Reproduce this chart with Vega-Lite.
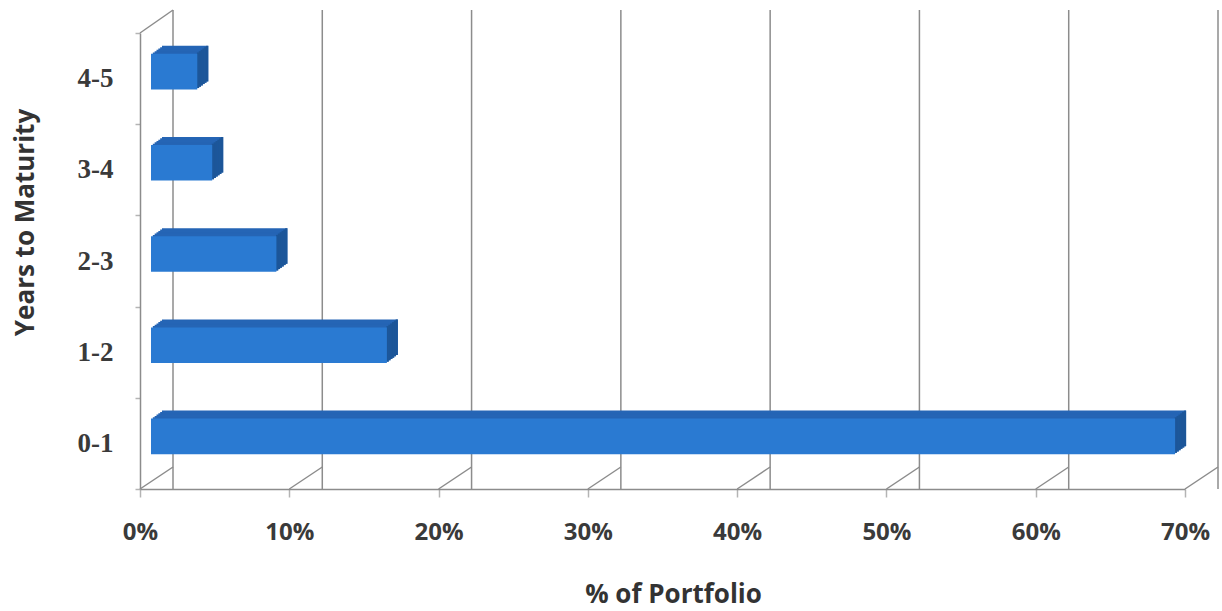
{
  "$schema": "https://vega.github.io/schema/vega-lite/v6.json",
  "width": 1045,
  "height": 456,
  "autosize": {"type": "none"},
  "padding": {"left": 140, "top": 33, "right": 37, "bottom": 122},
  "background": "white",
  "config": {"view": {"stroke": null}},
  "datasets": {
    "maturity": [
      {"term": "0-1", "pct": 68.6},
      {"term": "1-2", "pct": 15.8},
      {"term": "2-3", "pct": 8.4},
      {"term": "3-4", "pct": 4.1},
      {"term": "4-5", "pct": 3.1}
    ],
    "ticks": [
      {"v": 0}, {"v": 10}, {"v": 20}, {"v": 30},
      {"v": 40}, {"v": 50}, {"v": 60}, {"v": 70}
    ]
  },
  "layer": [
    {
      "data": {"name": "ticks"},
      "mark": {"type": "rule", "color": "#8c8c8c", "strokeWidth": 1.5, "xOffset": 33, "yOffset": -23, "y2Offset": -22},
      "encoding": {
        "x": {"field": "v", "type": "quantitative"}
      }
    },
    {
      "data": {"name": "ticks"},
      "mark": {"type": "rule", "color": "#8c8c8c", "strokeWidth": 1.5, "x2Offset": 33, "y2Offset": -22},
      "encoding": {
        "x": {"field": "v", "type": "quantitative"},
        "x2": {"field": "v"},
        "y": {"value": "height"},
        "y2": {"value": "height"}
      }
    },
    {
      "data": {"name": "ticks"},
      "transform": [{"filter": "datum.v === 0"}],
      "mark": {"type": "rule", "color": "#8c8c8c", "strokeWidth": 1.5, "x2Offset": 33, "y2Offset": -23},
      "encoding": {
        "x": {"field": "v", "type": "quantitative"},
        "x2": {"field": "v"},
        "y": {"value": 0},
        "y2": {"value": 0}
      }
    },
    {
      "data": {"name": "maturity"},
      "layer": [
        {"mark": {"type": "bar", "color": "#2565b5", "height": {"band": 0.39}, "xOffset": 22, "x2Offset": 22, "yOffset": -15}},
        {"mark": {"type": "bar", "color": "#2565b5", "height": {"band": 0.39}, "xOffset": 20.17, "x2Offset": 20.17, "yOffset": -13.67}},
        {"mark": {"type": "bar", "color": "#2565b5", "height": {"band": 0.39}, "xOffset": 18.33, "x2Offset": 18.33, "yOffset": -12.33}},
        {"mark": {"type": "bar", "color": "#2565b5", "height": {"band": 0.39}, "xOffset": 16.5, "x2Offset": 16.5, "yOffset": -11}},
        {"mark": {"type": "bar", "color": "#2565b5", "height": {"band": 0.39}, "xOffset": 14.67, "x2Offset": 14.67, "yOffset": -9.67}},
        {"mark": {"type": "bar", "color": "#2565b5", "height": {"band": 0.39}, "xOffset": 12.83, "x2Offset": 12.83, "yOffset": -8.33}},
        {"mark": {"type": "bar", "color": "#1c5699", "height": {"band": 0.39}, "xOffset": 22, "x2Offset": 19.8, "yOffset": -15}, "encoding": {"x2": {"field": "pct"}}},
        {"mark": {"type": "bar", "color": "#1c5699", "height": {"band": 0.39}, "xOffset": 20.17, "x2Offset": 17.97, "yOffset": -13.67}, "encoding": {"x2": {"field": "pct"}}},
        {"mark": {"type": "bar", "color": "#1c5699", "height": {"band": 0.39}, "xOffset": 18.33, "x2Offset": 16.13, "yOffset": -12.33}, "encoding": {"x2": {"field": "pct"}}},
        {"mark": {"type": "bar", "color": "#1c5699", "height": {"band": 0.39}, "xOffset": 16.5, "x2Offset": 14.3, "yOffset": -11}, "encoding": {"x2": {"field": "pct"}}},
        {"mark": {"type": "bar", "color": "#1c5699", "height": {"band": 0.39}, "xOffset": 14.67, "x2Offset": 12.47, "yOffset": -9.67}, "encoding": {"x2": {"field": "pct"}}},
        {"mark": {"type": "bar", "color": "#1c5699", "height": {"band": 0.39}, "xOffset": 12.83, "x2Offset": 10.63, "yOffset": -8.33}, "encoding": {"x2": {"field": "pct"}}},
        {
          "mark": {"type": "bar", "color": "#2a7ad2", "height": {"band": 0.39}, "xOffset": 11, "x2Offset": 11, "yOffset": -7},
          "encoding": {
            "x": {
              "field": "pct",
              "type": "quantitative",
              "scale": {"domain": [0, 70], "nice": false, "zero": true},
              "axis": {
                "values": [0, 10, 20, 30, 40, 50, 60, 70],
                "labelExpr": "datum.value + '%'",
                "grid": false,
                "domainColor": "#8c8c8c",
                "domainWidth": 1.5,
                "tickColor": "#b4b4b4",
                "tickSize": 8,
                "tickWidth": 1.5,
                "labelFont": "Open Sans",
                "labelFontWeight": "bold",
                "labelFontSize": 24,
                "labelColor": "#3a3a3a",
                "labelPadding": 23,
                "labelFlush": false,
                "labelOverlap": false,
                "title": "% of Portfolio",
                "titleFont": "Open Sans",
                "titleFontSize": 26,
                "titleFontWeight": "bold",
                "titleColor": "#333333",
                "titleX": 533,
                "titleY": 113,
                "titleBaseline": "alphabetic"
              }
            },
            "y": {
              "field": "term",
              "type": "nominal",
              "scale": {"domain": ["4-5", "3-4", "2-3", "1-2", "0-1"], "paddingInner": 0, "paddingOuter": 0},
              "axis": {
                "title": "Years to Maturity",
                "tickBand": "extent",
                "tickSize": 5,
                "tickColor": "#b4b4b4",
                "tickWidth": 1.5,
                "domainColor": "#8c8c8c",
                "domainWidth": 1.5,
                "labelFont": "Liberation Serif",
                "labelFontWeight": "bold",
                "labelFontSize": 27,
                "labelColor": "#3a3a3a",
                "labelPadding": 22,
                "titleFont": "Open Sans",
                "titleFontSize": 26,
                "titleFontWeight": "bold",
                "titleColor": "#333333",
                "titleAngle": 270,
                "titleX": -107,
                "titleY": 189,
                "titleAlign": "center",
                "titleBaseline": "alphabetic"
              }
            }
          }
        }
      ],
      "encoding": {
        "x": {"field": "pct", "type": "quantitative"},
        "y": {"field": "term", "type": "nominal"}
      }
    }
  ]
}
